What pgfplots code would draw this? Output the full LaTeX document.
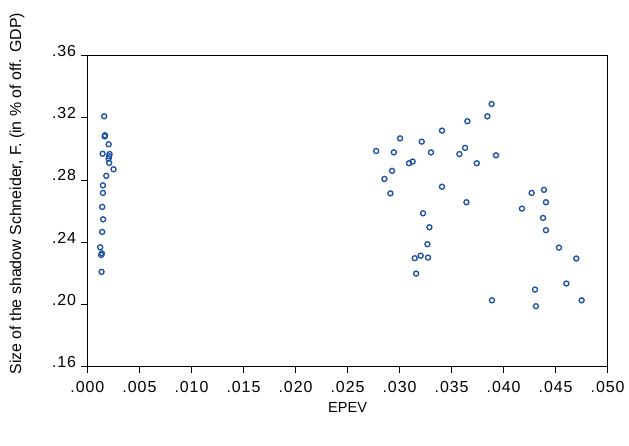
\documentclass[border=0pt]{standalone}
\usepackage{pgfplots}
\pgfplotsset{compat=1.18}
\usepackage{fontspec}
\setmainfont{Liberation Sans}
\newfontfamily\tickfont[LetterSpace=6]{Liberation Sans}
\definecolor{dotblue}{RGB}{30,80,165}
\begin{document}
\begin{tikzpicture}
\begin{axis}[
    scale only axis,
    width=390.4bp, height=233.25bp,
    xmin=0, xmax=0.05, ymin=0.16, ymax=0.36,
    scaled x ticks=false, scaled y ticks=false,
    axis line style={line width=0.75bp},
    tick style={black, line width=0.75bp},
    tick align=outside,
    major tick length=5bp,
    xtick pos=bottom, ytick pos=left,
    xtick={0,0.005,...,0.0501},
    xticklabels={.000,.005,.010,.015,.020,.025,.030,.035,.040,.045,.050},
    ytick={0.16,0.20,0.24,0.28,0.32,0.36},
    yticklabels={.16,.20,.24,.28,.32,.36},
    ticklabel style={font=\tickfont\fontsize{12}{14}\selectfont},
    xticklabel style={yshift=-2.5bp},
    yticklabel style={yshift=3.5bp},
    xlabel={EPEV},
    ylabel={Size of the shadow Schneider, F. (in \% of off. GDP)},
    xlabel style={font=\fontsize{11}{13}\selectfont, at={(axis description cs:0.5,-0.132)}, anchor=center},
    ylabel style={font=\fontsize{12}{14}\selectfont, at={(axis description cs:-0.1355,0.556)}, anchor=center},
]
\addplot[only marks, mark=o, mark size=1.9bp, dotblue, mark options={line width=1bp}] coordinates {
(0.00161,0.3210) (0.00169,0.3088) (0.00166,0.3081) (0.00204,0.3030)
(0.00146,0.2969) (0.00213,0.2967) (0.00209,0.2953) (0.00204,0.2938)
(0.00209,0.2910) (0.00251,0.2869) (0.00181,0.2827) (0.00149,0.2766)
(0.00149,0.2717) (0.00142,0.2627) (0.00151,0.2547) (0.00142,0.2466)
(0.00123,0.2367) (0.00139,0.2328) (0.00132,0.2318) (0.00136,0.2209)
(0.03885,0.3289) (0.03844,0.3210) (0.03652,0.3178) (0.03408,0.3118)
(0.03005,0.3068) (0.03213,0.3047) (0.03630,0.3007) (0.02775,0.2987)
(0.02945,0.2978) (0.03302,0.2978) (0.03575,0.2967) (0.03927,0.2959)
(0.03126,0.2919) (0.03091,0.2908) (0.03742,0.2908) (0.02928,0.2859)
(0.02855,0.2807) (0.03408,0.2757) (0.02912,0.2714) (0.03643,0.2657)
(0.03226,0.2586) (0.03287,0.2496) (0.03268,0.2387) (0.03203,0.2313)
(0.03146,0.2297) (0.03274,0.2301) (0.03159,0.2198) (0.03888,0.2026)
(0.04388,0.2737) (0.04270,0.2717) (0.04407,0.2657) (0.04176,0.2616)
(0.04379,0.2556) (0.04407,0.2477) (0.04532,0.2365) (0.04699,0.2295)
(0.04603,0.2134) (0.04302,0.2095) (0.04750,0.2026) (0.04311,0.1988)
};
\end{axis}
\path (-65.6bp,-59.25bp) rectangle (406.1bp,275.05bp);
\end{tikzpicture}
\end{document}
